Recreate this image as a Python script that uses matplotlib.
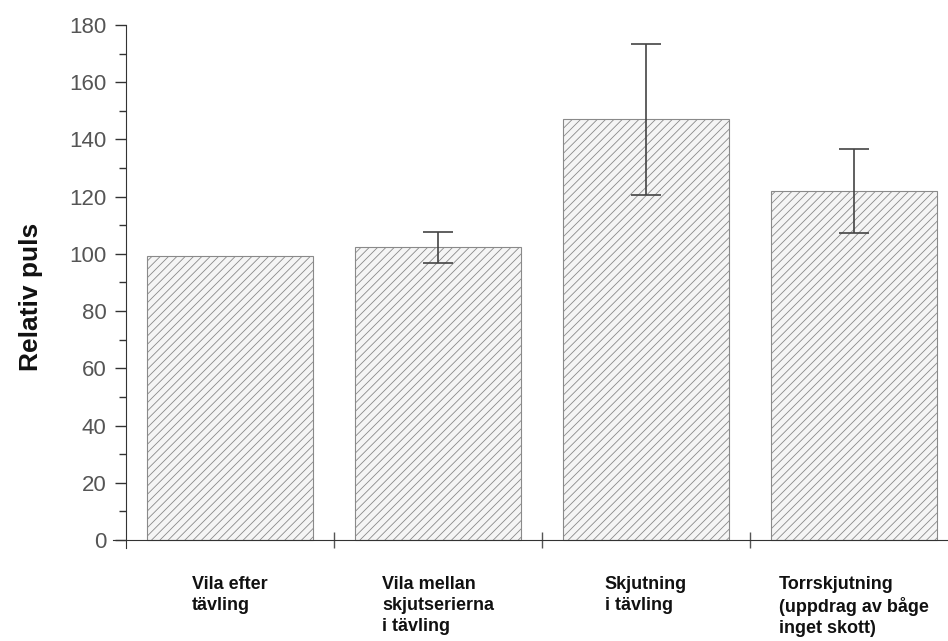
import matplotlib
matplotlib.use("Agg")
import matplotlib.pyplot as plt
from matplotlib.ticker import MultipleLocator

categories = ["Vila efter\ntävling",
              "Vila mellan\nskjutserierna\ni tävling",
              "Skjutning\ni tävling",
              "Torrskjutning\n(uppdrag av båge\ninget skott)"]
values = [99.2, 102.3, 147.0, 122.0]
errors = [0.0, 5.4, 26.4, 14.7]
y_ticks = [0, 20, 40, 60, 80, 100, 120, 140, 160, 180]

plt.rcParams["font.family"] = ["Liberation Sans", "DejaVu Sans"]
plt.rcParams["hatch.linewidth"] = 0.6

fig = plt.figure(figsize=(9.48, 6.41), dpi=100)
ax = fig.add_axes([0.1192, 0.1451, 0.8808, 0.8159])

xs = list(range(len(values)))
ax.bar(xs, values, width=0.8, facecolor="#f5f5f5", edgecolor="#8a8a8a",
       hatch="////", linewidth=0.8, zorder=2)

ex = [x for x, e in zip(xs, errors) if e > 0]
ev = [v for v, e in zip(values, errors) if e > 0]
ee = [e for e in errors if e > 0]
ax.errorbar(ex, ev, yerr=ee, fmt="none", ecolor="#444444", elinewidth=1.2,
            capsize=11, capthick=1.2, zorder=3)

ax.set_xlim(-0.5625, 3.452)
ax.set_ylim(-2.8, 180)
ax.spines["top"].set_visible(False)
ax.spines["right"].set_visible(False)
ax.spines["left"].set_position(("data", -0.5))
ax.spines["bottom"].set_position(("data", 0))
ax.spines["left"].set_color("#333333")
ax.spines["bottom"].set_color("#333333")

ax.set_yticks(y_ticks)
ax.yaxis.set_minor_locator(MultipleLocator(10))
ax.tick_params(axis="y", which="major", length=8, width=1, color="#333333",
               labelsize=16, labelcolor="#555555", pad=6)
ax.tick_params(axis="y", which="minor", length=5, width=1, color="#333333")

ax.set_xticks([0.5, 1.5, 2.5])
ax.set_xticklabels([])
ax.tick_params(axis="x", which="major", direction="inout", length=12,
               width=1, color="#555555")

for x, lab in zip(xs, categories):
    ax.text(x, -12.5, lab, ha="center", va="top", multialignment="left",
            fontsize=13, fontweight="bold", color="#111111", linespacing=1.3)

fig.text(0.033, 0.537, "Relativ puls", rotation=90, ha="center", va="center",
         fontsize=19, fontweight="bold", color="#111111")

fig.savefig("out.png", dpi=100)
